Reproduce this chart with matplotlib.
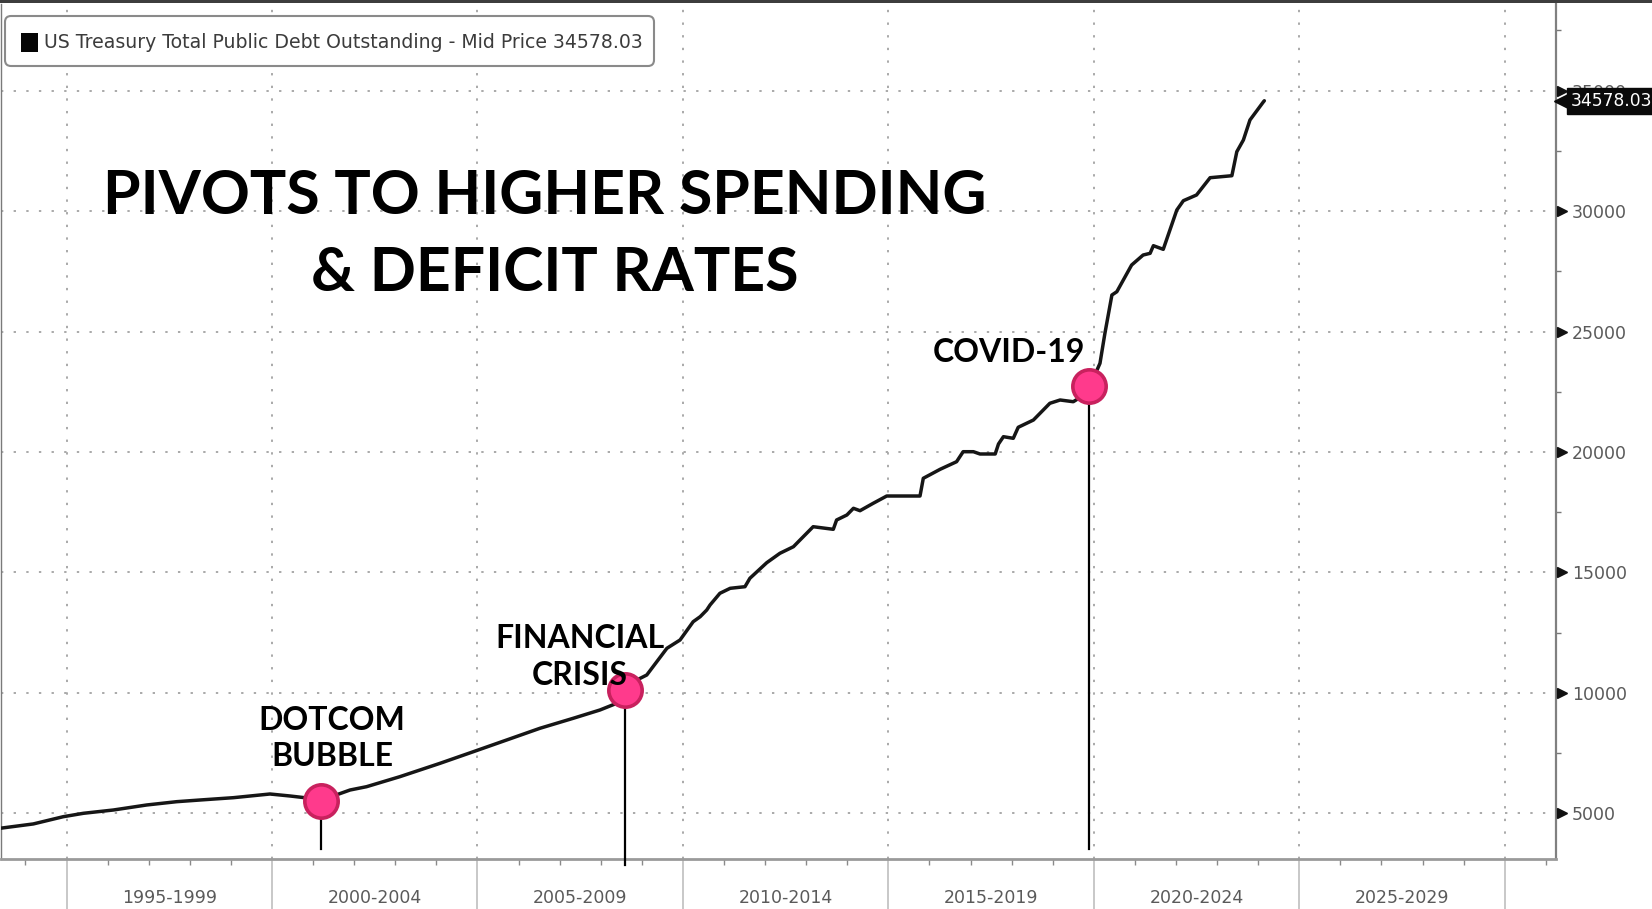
import matplotlib
matplotlib.use("Agg")
import numpy as np
import matplotlib.pyplot as plt
from matplotlib import font_manager
from matplotlib import transforms as mtransforms
from matplotlib.patches import FancyBboxPatch, Rectangle
from matplotlib.ticker import FixedLocator

# ---------------- data ----------------
years = [1993.38, 1994.19, 1994.92, 1995.41, 1996.14, 1996.95, 1997.68, 1998.25, 1999.06,
         1999.95, 2000.44, 2000.92, 2001.49, 2001.90, 2002.30, 2003.11, 2003.60,
         2004.09, 2004.90, 2005.71, 2006.52, 2007.33, 2007.98, 2008.39, 2008.88,
         2009.12, 2009.61, 2009.93, 2010.25, 2010.42, 2010.58, 2010.66, 2010.90,
         2011.15, 2011.51, 2011.63, 2012.04, 2012.36, 2012.69, 2012.85, 2013.17,
         2013.66, 2013.74, 2013.99, 2014.15, 2014.31, 2014.63, 2014.96, 2015.77,
         2015.85, 2016.26, 2016.66, 2016.82, 2017.07, 2017.23, 2017.60, 2017.68,
         2017.80, 2018.04, 2018.16, 2018.53, 2018.93, 2019.18, 2019.50, 2019.83,
         2020.15, 2020.27, 2020.44, 2020.56, 2020.92, 2021.20, 2021.37, 2021.45,
         2021.69, 2021.81, 2022.02, 2022.18, 2022.50, 2022.83, 2023.36, 2023.48,
         2023.64, 2023.80, 2024.13, 2024.15]
debt = [4382, 4562, 4863, 5004, 5141, 5349, 5486, 5556, 5652,
        5805, 5722, 5627, 5722, 5971, 6108, 6523, 6801,
        7079, 7561, 8046, 8532, 8947, 9291, 9570, 10537,
        10744, 11852, 12197, 12956, 13164, 13442, 13649, 14135,
        14342, 14409, 14758, 15405, 15795, 16069, 16347, 16899,
        16791, 17177, 17385, 17663, 17563, 17870, 18173, 18173,
        18908, 19282, 19597, 20012, 20012, 19917, 19917, 20332,
        20635, 20568, 21025, 21327, 22021, 22158, 22087, 22436,
        23681, 24926, 26515, 26652, 27760, 28175, 28246, 28562,
        28412, 29006, 30044, 30430, 30667, 31384, 31467, 32463,
        32949, 33779, 34539, 34578]
last_value = 34578.03

event_labels = ["DOTCOM\nBUBBLE", "FINANCIAL\nCRISIS", "COVID-19"]
event_years = [2001.19, 2008.59, 2019.88]
event_values = [5500, 10122, 22751]

period_labels = ["1995-1999", "2000-2004", "2005-2009", "2010-2014",
                 "2015-2019", "2020-2024", "2025-2029"]
period_starts = [1995, 2000, 2005, 2010, 2015, 2020, 2025]
y_ticks = [5000, 10000, 15000, 20000, 25000, 30000, 35000]

title_lines = ["PIVOTS TO HIGHER SPENDING", "& DEFICIT RATES"]
legend_label = "US Treasury Total Public Debt Outstanding - Mid Price 34578.03"

# ---------------- helpers ----------------
def has_font(name):
    try:
        font_manager.findfont(font_manager.FontProperties(family=name),
                              fallback_to_default=False)
        return True
    except Exception:
        return False

NARROW = [f for f in ["Liberation Sans Narrow"] if has_font(f)]
title_family = NARROW + ["Lato", "DejaVu Sans"]
legend_family = NARROW + ["DejaVu Sans"]
label_family = ["Lato", "DejaVu Sans"]

W, H = 1652, 909
fig = plt.figure(figsize=(W / 100, H / 100), dpi=100)
fig.patch.set_facecolor("white")

ax_top_px, ax_bot_px, ax_left_px, ax_right_px = 4, 859, 1, 1556
ax = fig.add_axes([ax_left_px / W, (H - ax_bot_px) / H,
                   (ax_right_px - ax_left_px) / W, (ax_bot_px - ax_top_px) / H])
px_per_year = 41.09
x0_year = 1993.38
ax.set_xlim(x0_year + ax_left_px / px_per_year, x0_year + ax_right_px / px_per_year)
ax.set_ylim(3107, 38594)

# grid
grid_kw = dict(color="#a9a9a9", lw=1.4, ls=(0, (1.2, 5.3)))
ax.xaxis.set_major_locator(FixedLocator(period_starts + [2030]))
ax.yaxis.set_major_locator(FixedLocator(y_ticks))
ax.grid(True, which="major", **grid_kw)
ax.set_axisbelow(True)

# x axis ticks
ax.set_xticks(np.arange(1994, 2032), minor=True)
ax.tick_params(axis="x", which="major", length=36, width=1.3, color="#c4c4c4",
               direction="out", labelbottom=False)
ax.tick_params(axis="x", which="minor", length=4, width=1.0, color="#8a8a8a",
               direction="out")
blend_x = mtransforms.blended_transform_factory(ax.transData, ax.transAxes)
lab_tr = blend_x + mtransforms.ScaledTranslation(0, -0.386, fig.dpi_scale_trans)
for s, lab in zip(period_starts, period_labels):
    ax.text(s + 2.5, 0, lab, transform=lab_tr, ha="center", va="center",
            fontsize=12.5, color="#5a5a5a", family="DejaVu Sans")

# y axis ticks (right)
ax.yaxis.tick_right()
ax.set_yticks(y_ticks)
ax.set_yticklabels([str(v) for v in y_ticks])
ax.set_yticks(np.arange(7500, 38000, 5000), minor=True)
ax.tick_params(axis="y", which="major", length=0, pad=11.5, labelsize=12.5,
               labelcolor="#5a5a5a")
ax.tick_params(axis="y", which="minor", length=3.5, width=1.0, color="#777777",
               direction="out")
blend_y = mtransforms.blended_transform_factory(ax.transAxes, ax.transData)
tri_tr = blend_y + mtransforms.ScaledTranslation(0.055, 0, fig.dpi_scale_trans)
ax.plot(np.ones(len(y_ticks)), y_ticks, ls="none", marker=">", ms=7.5,
        color="#111111", transform=tri_tr, clip_on=False, zorder=6)

# spines
ax.spines["top"].set_visible(False)
ax.spines["left"].set_color("#7a7a7a")
ax.spines["left"].set_linewidth(1.0)
ax.spines["right"].set_color("#808080")
ax.spines["right"].set_linewidth(1.6)
ax.spines["bottom"].set_color("#9a9a9a")
ax.spines["bottom"].set_linewidth(2.0)

# series line
ax.plot(years, debt, color="#161616", lw=2.5, solid_joinstyle="round",
        solid_capstyle="round", zorder=3)

# last value tag
tag = ax.annotate(f"{last_value:.2f}", xy=(1, last_value),
                  xycoords=("axes fraction", "data"),
                  xytext=(15, 0), textcoords="offset pixels",
                  ha="left", va="center", color="white", fontsize=12.3,
                  family="DejaVu Sans",
                  bbox=dict(boxstyle="square,pad=0.24", fc="#0a0a0a", ec="#0a0a0a"),
                  annotation_clip=False, zorder=10)
tag_arrow_tr = blend_y + mtransforms.ScaledTranslation(0.062, 0, fig.dpi_scale_trans)
ax.plot([1], [last_value], ls="none", marker="<", ms=12, color="#0a0a0a",
        transform=tag_arrow_tr, clip_on=False, zorder=9)

# event stems, markers, labels
inv = ax.transData.inverted()
stem_bottom_px = [849, 865, 849]
label_offsets_px = [(11, 63), (-45, 33), (-80, 33.7)]
for ex, ev, bpx in zip(event_years, event_values, stem_bottom_px):
    yb = inv.transform((0, H - bpx))[1]
    ax.plot([ex, ex], [ev, yb], color="black", lw=1.6, zorder=4, clip_on=False)
ax.plot(event_years, event_values, ls="none", marker="o", ms=24,
        mfc="#ff3a8c", mec="#c8215e", mew=2.6, zorder=5)

renderer = fig.canvas.get_renderer()

ann_texts = []
for lab, ex, ev, off in zip(event_labels, event_years, event_values, label_offsets_px):
    t = ax.annotate(lab, xy=(ex, ev), xytext=off, textcoords="offset pixels",
                    ha="center", va="center", multialignment="center",
                    fontsize=22, fontweight="bold", family=label_family,
                    color="black", linespacing=1.3, zorder=7)
    ann_texts.append(t)
# fit annotation font size so COVID-19 spans ~152 px
bb = ann_texts[2].get_window_extent(renderer)
fs_ann = 22 * 152 / bb.width
for t in ann_texts:
    t.set_fontsize(fs_ann)

# title
t1 = fig.text(545 / W, 1 - 196.5 / H, title_lines[0], ha="center", va="center",
              fontsize=50, fontweight="bold", family=title_family, color="black")
t2 = fig.text(555 / W, 1 - 273 / H, title_lines[1], ha="center", va="center",
              fontsize=50, fontweight="bold", family=title_family, color="black")
bb = t1.get_window_extent(renderer)
fs_title = 50 * 886 / bb.width
t1.set_fontsize(fs_title)
t2.set_fontsize(fs_title)

# legend box
ident = mtransforms.IdentityTransform()
box = FancyBboxPatch((5, H - 66), 649, 50, boxstyle="round,pad=0,rounding_size=6",
                     transform=ident, fc="white", ec="#8a8a8a", lw=1.5, zorder=20)
fig.patches.append(box)
sq = Rectangle((21, H - 52), 17, 19, transform=ident, fc="#050505", ec="none", zorder=21)
fig.patches.append(sq)
lt = fig.text(44 / W, 1 - 42 / H, legend_label, ha="left", va="center",
              fontsize=13, family=legend_family, color="#3c3c3c", zorder=22)
bb = lt.get_window_extent(renderer)
lt.set_fontsize(13 * 598 / bb.width)

# dark band at top
band = Rectangle((0, H - 3), W, 3, transform=ident, fc="#3d3d3d", ec="none", zorder=30)
fig.patches.append(band)

fig.savefig("out.png", dpi=100, facecolor="white")
